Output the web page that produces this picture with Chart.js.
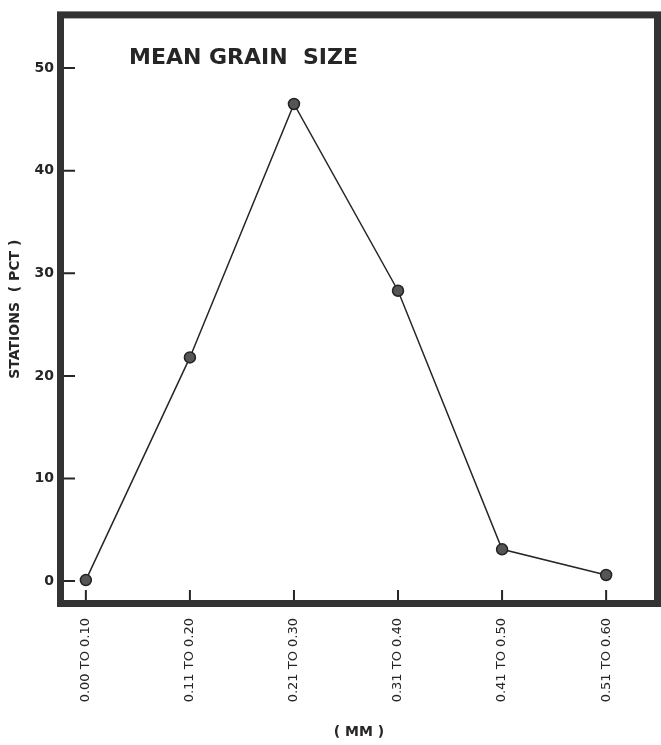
<!DOCTYPE html>
<html>
<head>
<meta charset="utf-8">
<script src="https://cdn.jsdelivr.net/npm/chart.js@4/dist/chart.umd.min.js"></script>
<style>
  html, body { margin: 0; padding: 0; background: #fff; }
  #wrap { width: 661px; height: 745px; }
</style>
</head>
<body>
<div id="wrap"><canvas id="chart" width="661" height="745"></canvas></div>
<script>
// grain size classes (mm) and percent of stations
const sizeClasses = ['0.00 TO 0.10', '0.11 TO 0.20', '0.21 TO 0.30', '0.31 TO 0.40', '0.41 TO 0.50', '0.51 TO 0.60'];
const stationPct = [0.1, 21.8, 46.5, 28.3, 3.1, 0.6];
const yTicks = [0, 10, 20, 30, 40, 50];

const ink = '#262626';
const font = '"DejaVu Sans", sans-serif';

// heavy frame round the plot, ticks pointing inward, title inside
const framePlugin = {
    id: 'frame',
    afterDraw(chart) {
        const ctx = chart.ctx;
        const a = chart.chartArea;
        const xs = chart.scales.x, ys = chart.scales.y;
        ctx.save();
        ctx.strokeStyle = ink;
        ctx.lineWidth = 2;
        ctx.beginPath();
        yTicks.forEach(v => {
            const y = ys.getPixelForValue(v);
            ctx.moveTo(a.left, y);
            ctx.lineTo(a.left + 11, y);
        });
        sizeClasses.forEach((c, i) => {
            const x = xs.getPixelForValue(i);
            ctx.moveTo(x, a.bottom);
            ctx.lineTo(x, a.bottom - 10);
        });
        ctx.stroke();

        ctx.lineWidth = 7;
        ctx.strokeStyle = '#333';
        ctx.strokeRect(a.left - 3.5, a.top - 3.5, a.right - a.left + 7, a.bottom - a.top + 7);

        ctx.fillStyle = ink;
        ctx.font = 'bold 22px ' + font;
        ctx.textBaseline = 'middle';
        ctx.fillText('MEAN GRAIN  SIZE', a.left + 65, a.top + 40);
        ctx.restore();
    }
};

const ctx = document.getElementById('chart').getContext('2d');
new Chart(ctx, {
    type: 'line',
    data: {
        datasets: [
            {
                data: stationPct.map((v, i) => ({ x: i, y: v })),
                borderColor: ink,
                borderWidth: 1.5,
                pointRadius: 5.5,
                pointBackgroundColor: '#555',
                pointBorderColor: '#222',
                pointBorderWidth: 1.5,
                tension: 0
            }
        ]
    },
    options: {
        responsive: false,
        animation: false,
        layout: { padding: { top: 14, right: 6, left: 0, bottom: 0 } },
        plugins: {
            legend: { display: false },
            tooltip: { enabled: false }
        },
        scales: {
            x: {
                type: 'linear',
                min: -0.21,
                max: 5.46,
                border: { display: false },
                grid: { display: false, drawTicks: false },
                afterBuildTicks: s => { s.ticks = sizeClasses.map((c, i) => ({ value: i })); },
                afterFit: s => { s.height = 145; },
                ticks: {
                    minRotation: 90,
                    maxRotation: 90,
                    padding: 18,
                    color: ink,
                    font: { family: font, size: 13 },
                    callback: v => sizeClasses[v]
                },
                title: {
                    display: true,
                    text: '( MM )',
                    color: ink,
                    font: { family: font, size: 14, weight: 'bold' },
                    padding: { top: 0, bottom: 4 }
                }
            },
            y: {
                min: -1.84,
                max: 54.84,
                border: { display: false },
                grid: { display: false, drawTicks: false },
                afterBuildTicks: s => { s.ticks = yTicks.map(v => ({ value: v })); },
                afterFit: s => { s.width = 64; },
                ticks: {
                    padding: 10,
                    color: ink,
                    font: { family: font, size: 14, weight: 'bold' }
                },
                title: {
                    display: true,
                    text: 'STATIONS  ( PCT )',
                    color: ink,
                    font: { family: font, size: 14, weight: 'bold' },
                    padding: { top: 7, bottom: 0 }
                }
            }
        }
    },
    plugins: [framePlugin]
});
</script>
</body>
</html>
